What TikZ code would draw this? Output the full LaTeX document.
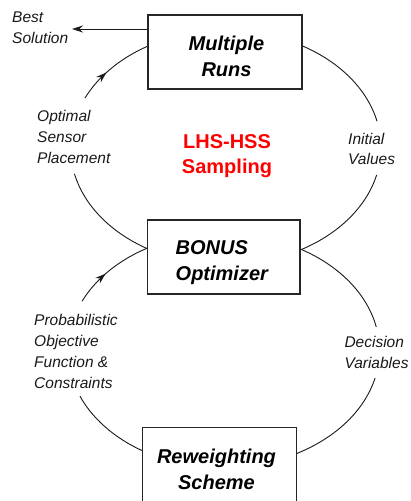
\documentclass[tikz,border=0pt]{standalone}
\usepackage{fontspec}
\setmainfont{Liberation Sans}
\usetikzlibrary{arrows.meta,decorations.markings}

\begin{document}
\begin{tikzpicture}[x=1pt,y=-1pt,
  conn/.style={line width=0.9pt, draw=black!90},
  boxnode/.style={draw=black!85, line width=1.2pt, fill=white, rectangle, inner sep=0pt},
  boxtext/.style={font=\fontsize{20}{26.5}\selectfont\bfseries\itshape, inner sep=0pt},
  lbl/.style={font=\fontsize{15.5}{20.7}\selectfont\itshape, align=left, inner sep=0pt, anchor=west, text=black!90},
  midarrow/.style={postaction={decorate, decoration={markings,
      mark=at position #1 with {\arrow{Stealth[length=10.5pt,width=7pt]}}}}},
  outarrow/.style={-{Stealth[length=11pt,width=7pt]}}
]
\useasboundingbox (0,0) rectangle (410,501);

% centres of the two loops
\coordinate (upc) at (225,147.5);
\coordinate (loc) at (222,350.5);

% ends of the loop segments (label gaps)
\coordinate (ul1) at ([shift={(upc)}]205:154.5 and 117);
\coordinate (ul2) at ([shift={(upc)}]167:154.5 and 117);
\coordinate (ur1) at ([shift={(upc)}]-13:156 and 117);
\coordinate (ur2) at ([shift={(upc)}]13.6:156 and 117);
\coordinate (ll1) at ([shift={(loc)}]205:154.3 and 117);
\coordinate (ll2) at ([shift={(loc)}]157:154.3 and 117);
\coordinate (lr1) at ([shift={(loc)}]-11.6:157.5 and 117);
\coordinate (lr2) at ([shift={(loc)}]13.6:157.5 and 117);

% upper loop
\draw[conn, midarrow=0.37] (ul1) arc[start angle=205, end angle=243, x radius=154.5, y radius=117];
\draw[conn] (ul2) arc[start angle=167, end angle=117, x radius=154.5, y radius=117];
\draw[conn] (ur1) arc[start angle=-13, end angle=-63, x radius=156, y radius=117];
\draw[conn] (ur2) arc[start angle=13.6, end angle=64, x radius=156, y radius=117];

% lower loop
\draw[conn, midarrow=0.40] (ll1) arc[start angle=205, end angle=243, x radius=154.3, y radius=117];
\draw[conn] (ll2) arc[start angle=157, end angle=117, x radius=154.3, y radius=117];
\draw[conn] (lr1) arc[start angle=-11.6, end angle=-63, x radius=157.5, y radius=117];
\draw[conn] (lr2) arc[start angle=13.6, end angle=64, x radius=157.5, y radius=117];

% boxes
\node[boxnode, minimum width=154pt, minimum height=74pt] (runs) at (225,52) {};
\node[boxnode, minimum width=152.7pt, minimum height=74pt] (bonus) at (223.7,257) {};
\node[boxnode, minimum width=154pt, minimum height=84.7pt] (rew) at (219.7,469.7) {};

\node[boxtext, align=center] (runst) at (226.5,56.2) {Multiple\\Runs};
\node[boxtext, align=left, anchor=west] (bonust) at (175.5,262.4) {BONUS\\Optimizer};
\node[boxtext, align=center] (rewt) at (216.5,469.3) {Reweighting\\Scheme};

% centre caption
\node[font=\fontsize{20}{25.5}\selectfont\bfseries, text=red, align=center, inner sep=0pt]
  (lhs) at (227,156) {LHS-HSS\\Sampling};

% labels
\node[lbl] (best) at (12,28) {Best\\Solution};
\node[lbl] (osp) at (37,137) {Optimal\\Sensor\\Placement};
\node[lbl] (iv) at (348,149) {Initial\\Values};
\node[lbl] (pof) at (34,351.5) {Probabilistic\\Objective\\Function \&\\Constraints};
\node[lbl] (dv) at (344.3,352.8) {Decision\\Variables};

% best solution output
\coordinate (bsend) at (72,29);
\draw[conn, outarrow] (runs.west |- bsend) -- (bsend);
\end{tikzpicture}
\end{document}
